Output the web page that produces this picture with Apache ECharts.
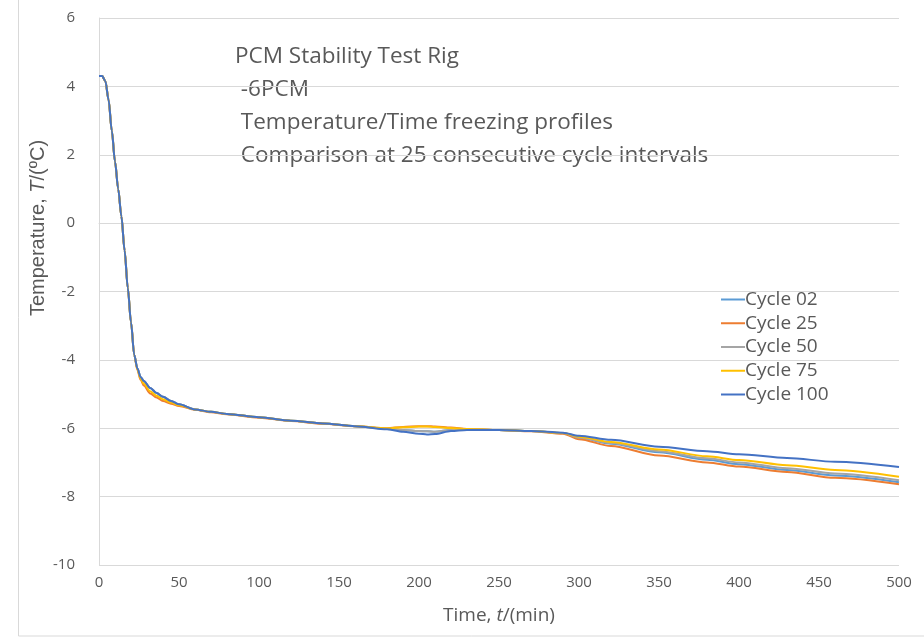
<!DOCTYPE html>
<html>
<head>
<meta charset="utf-8">
<script src="https://cdn.jsdelivr.net/npm/echarts@6/dist/echarts.min.js"></script>
<style>html,body{margin:0;padding:0;background:#fff;}#c{width:924px;height:641px;}</style>
</head>
<body>
<div id="c"></div>
<script>
const time = [0,2,4,6,8,10,12,14,16,18,20,22,24,26,28,32,36,40,45,50,60,70,80,100,120,140,160,180,190,200,205,210,220,230,250,270,290,300,320,350,380,400,430,460,500];

const cycle02 = [4.3,4.3,4.15,3.6,2.7,1.8,1.0,0.2,-0.8,-1.9,-2.9,-3.85,-4.25,-4.5,-4.62,-4.82,-4.97,-5.08,-5.2,-5.3,-5.45,-5.52,-5.58,-5.68,-5.78,-5.86,-5.94,-6.02,-6.05,-6.08,-6.09,-6.1,-6.05,-6.04,-6.05,-6.08,-6.14,-6.28,-6.45,-6.7,-6.92,-7.05,-7.22,-7.38,-7.58];
const cycle25 = [4.3,4.3,4.15,3.6,2.7,1.8,1.0,0.2,-0.8,-1.9,-2.9,-3.85,-4.3,-4.58,-4.75,-4.98,-5.1,-5.2,-5.28,-5.35,-5.46,-5.53,-5.59,-5.69,-5.79,-5.87,-5.94,-6.0,-5.96,-5.94,-5.94,-5.95,-5.98,-6.02,-6.05,-6.09,-6.16,-6.32,-6.52,-6.8,-7.0,-7.12,-7.28,-7.45,-7.64];
const cycle50 = [4.3,4.3,4.15,3.6,2.7,1.8,1.0,0.2,-0.8,-1.9,-2.9,-3.85,-4.25,-4.5,-4.62,-4.82,-4.97,-5.08,-5.2,-5.3,-5.45,-5.52,-5.58,-5.68,-5.78,-5.86,-5.94,-6.02,-6.05,-6.08,-6.09,-6.1,-6.05,-6.04,-6.05,-6.08,-6.14,-6.27,-6.43,-6.67,-6.88,-7.0,-7.17,-7.32,-7.52];
const cycle75 = [4.3,4.3,4.15,3.6,2.7,1.8,1.0,0.2,-0.8,-1.9,-2.9,-3.85,-4.28,-4.55,-4.7,-4.92,-5.05,-5.15,-5.25,-5.33,-5.45,-5.52,-5.58,-5.68,-5.78,-5.86,-5.94,-6.0,-5.97,-5.95,-5.95,-5.96,-5.99,-6.02,-6.05,-6.08,-6.14,-6.25,-6.4,-6.62,-6.82,-6.93,-7.08,-7.22,-7.42];
const cycle100 = [4.3,4.3,4.15,3.6,2.7,1.8,1.0,0.2,-0.8,-1.9,-2.9,-3.85,-4.25,-4.5,-4.62,-4.82,-4.97,-5.08,-5.2,-5.3,-5.45,-5.52,-5.58,-5.68,-5.78,-5.86,-5.94,-6.03,-6.1,-6.16,-6.18,-6.17,-6.08,-6.05,-6.05,-6.08,-6.13,-6.22,-6.34,-6.54,-6.67,-6.76,-6.87,-6.98,-7.13];

const seriesNames = ['Cycle 02','Cycle 25','Cycle 50','Cycle 75','Cycle 100'];
const seriesValues = [cycle02, cycle25, cycle50, cycle75, cycle100];
const colors = ['#5B9BD5','#ED7D31','#A5A5A5','#FFC000','#4472C4'];

const titleLines = ['PCM Stability Test Rig',' -6PCM',' Temperature/Time freezing profiles',' Comparison at 25 consecutive cycle intervals'];

const FONT = '"Open Sans", sans-serif';
const chart = echarts.init(document.getElementById('c'));
chart.setOption({
  animation: false,
  backgroundColor: '#fff',
  color: colors,
  grid: {left: 99, right: 25, top: 18, bottom: 76},
  legend: {
    orient: 'vertical', left: 716, top: 285,
    icon: 'rect', itemWidth: 24, itemHeight: 2, itemGap: 4.75,
    textStyle: {fontFamily: FONT, fontSize: 19, color: '#595959', padding: [0,0,0,-5]},
    data: seriesNames
  },
  xAxis: {
    type: 'value', min: 0, max: 500, interval: 50,
    axisLine: {show: true, lineStyle: {color: '#d9d9d9'}},
    axisTick: {show: false},
    splitLine: {show: false},
    axisLabel: {fontFamily: FONT, fontSize: 15, color: '#595959', margin: 10},
    name: 'Time, {i|t}/(min)', nameLocation: 'middle', nameGap: 41,
    nameTextStyle: {fontFamily: FONT, fontSize: 19, color: '#595959',
      rich: {i: {fontFamily: FONT, fontSize: 19, color: '#595959', fontStyle: 'italic'}}}
  },
  yAxis: {
    type: 'value', min: -10, max: 6, interval: 2,
    axisLine: {show: true, lineStyle: {color: '#d9d9d9'}},
    axisTick: {show: false},
    splitLine: {show: true, lineStyle: {color: '#d9d9d9'}},
    axisLabel: {fontFamily: FONT, fontSize: 15, color: '#595959', margin: 24}
  },
  graphic: [
    {type: 'rect', shape: {x: 18.5, y: -2, width: 910, height: 638}, style: {fill: 'none', stroke: '#d9d9d9', lineWidth: 1}, silent: true, z: -1},
    {type: 'text', x: 38, y: 228, rotation: Math.PI/2,
      style: {text: 'Temperature, {i|T}/(ºC)', fontFamily: '"Liberation Sans", Arial, sans-serif', fontSize: 20, fill: '#595959',
        align: 'center', verticalAlign: 'middle',
        rich: {i: {fontFamily: '"Liberation Sans", Arial, sans-serif', fontSize: 20, fill: '#595959', fontStyle: 'italic'}}}},
    {type: 'text', left: 235, top: 40,
      style: {text: titleLines.join('\n'), fontFamily: FONT, fontSize: 22.5, lineHeight: 33, fill: '#595959'}}
  ],
  series: seriesNames.map((n, k) => ({
    name: n, type: 'line', showSymbol: false, symbol: 'none',
    smooth: 0.3, smoothMonotone: 'x',
    lineStyle: {width: 2, color: colors[k]},
    data: time.map((t, i) => [t, seriesValues[k][i]])
  }))
});
</script>
</body>
</html>
